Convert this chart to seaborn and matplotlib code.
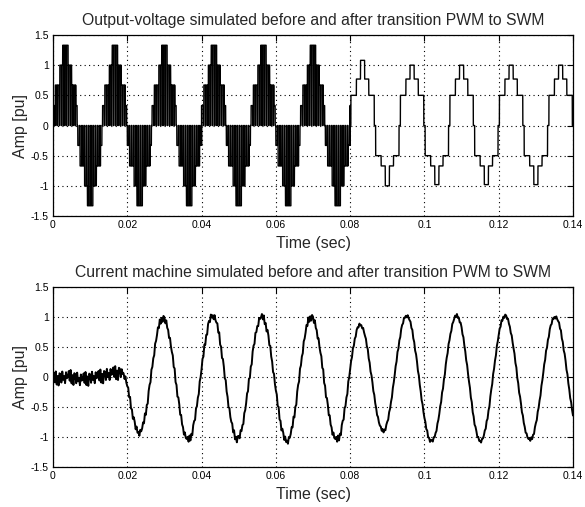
import numpy as np
import pandas as pd
import seaborn as sns
import matplotlib
matplotlib.use("Agg")
import matplotlib.pyplot as plt

# ---- values ----
period = 0.01333          # fundamental period (s), from the spacing of the peaks
t_switch = 0.08           # PWM -> SWM changeover in the voltage trace
t_end = 0.14

x_ticks = [0, 0.02, 0.04, 0.06, 0.08, 0.1, 0.12, 0.14]
x_tick_labels = ["0", "0.02", "0.04", "0.06", "0.08", "0.1", "0.12", "0.14"]
y_ticks = [-1.5, -1, -0.5, 0, 0.5, 1, 1.5]
y_tick_labels = ["-1.5", "-1", "-0.5", "0", "0.5", "1", "1.5"]

titles = ["Output-voltage simulated before and after transition PWM to SWM",
          "Current machine simulated before and after transition PWM to SWM"]

# PWM part: envelope level inside each half cycle (edges in degrees)
pwm_edges = [0, 15, 45, 70, 110, 135, 165, 180]
pwm_levels = [0.33, 0.67, 1.0, 1.33, 1.0, 0.67, 0.33]
pwm_pulses_per_half = 11
pwm_duty = 0.7

# SWM part: staircase per half cycle, index 3 is the peak step
swm_edges = [0, 5, 45, 75, 105, 135, 175, 180]
swm_pos_levels = [0, 0.5, 0.77, 1.0, 0.77, 0.5, 0]
swm_neg_levels = [0, -0.5, -0.67, -0.98, -0.67, -0.5, 0]
swm_pos_peaks = [1.08, 1.0, 1.0, 1.0, 1.0]
swm_neg_peaks = [-1.0, -0.98, -0.98, -0.98, -0.98]

# current: quiet start, then the extrema of every half wave
current_knot_t = [0.0, 0.004, 0.008, 0.012, 0.0165, 0.0185, 0.0232, 0.0296,
                  0.0364, 0.0430, 0.0496, 0.0562, 0.0630, 0.0695, 0.0764,
                  0.0827, 0.0889, 0.0952, 0.1019, 0.1087, 0.1151, 0.1217,
                  0.1284, 0.1352, 0.1420]
current_knot_v = [-0.03, 0.0, -0.04, 0.0, 0.06, 0.08, -0.93, 0.98,
                  -1.05, 1.02, -1.03, 1.0, -1.07, 1.0, -1.05,
                  0.87, -0.9, 1.02, -1.07, 1.02, -1.07, 1.02,
                  -1.05, 1.0, -1.05]
# jagged ripple on the current, one value per 0.25 ms, repeated along the trace
ripple = [0.0, 0.05, -0.03, 0.06, -0.05, 0.02, -0.06, 0.04,
          0.03, -0.04, 0.05, -0.02, 0.01, -0.05, 0.04, -0.01]
ripple_step = 0.00025
ripple_from = [0.0, 0.0185, 0.08]
ripple_gain = [2.0, 1.0, 0.5]


def half_wave_level(tau, edges, pos, neg):
    ph = (tau % period) / period * 360
    idx = np.clip(np.searchsorted(edges, ph % 180, side="right") - 1, 0, len(pos) - 1)
    return ph, idx, np.where(ph < 180, np.take(pos, idx), np.take(neg, idx))


# voltage trace
t_v = np.arange(0, t_end + 1e-9, 2e-6)
_, _, env = half_wave_level(t_v, pwm_edges, pwm_levels, [-v for v in pwm_levels])
pulse_T = period / 2 / pwm_pulses_per_half
on = ((t_v % pulse_T) / pulse_T) < pwm_duty
v_pwm = env * on

tau = np.clip(t_v - t_switch, 0, None)
ph, idx, v_swm = half_wave_level(tau, swm_edges, swm_pos_levels, swm_neg_levels)
n = np.clip((tau // period).astype(int), 0, len(swm_pos_peaks) - 1)
peak = np.where(ph < 180, np.take(swm_pos_peaks, n), np.take(swm_neg_peaks, n))
v_swm = np.where(idx == 3, peak, v_swm)

voltage = pd.DataFrame({"t": t_v, "v": np.where(t_v < t_switch, v_pwm, v_swm)})

# current trace: smooth half-cosine between the read extrema plus the ripple
t_i = np.arange(0, t_end + 1e-9, ripple_step)
kt, kv = np.array(current_knot_t), np.array(current_knot_v)
k = np.clip(np.searchsorted(kt, t_i, side="right") - 1, 0, len(kt) - 2)
s = np.clip((t_i - kt[k]) / (kt[k + 1] - kt[k]), 0, 1)
base = kv[k] + (kv[k + 1] - kv[k]) * (1 - np.cos(np.pi * s)) / 2
rip = np.take(ripple, np.arange(len(t_i)) % len(ripple))
gain = np.take(ripple_gain, np.searchsorted(ripple_from, t_i, side="right") - 1)
current = pd.DataFrame({"t": t_i, "i": base + rip * gain})

# ---- plotting ----
sns.set_style("white")
plt.rcParams["font.family"] = ["Liberation Sans", "DejaVu Sans"]

fig = plt.figure(figsize=(5.85, 5.07), dpi=100)
ax1 = fig.add_axes([53 / 585, 1 - 216 / 507, 520 / 585, 181 / 507])
ax2 = fig.add_axes([53 / 585, 1 - 467 / 507, 520 / 585, 180 / 507])

sns.lineplot(data=voltage, x="t", y="v", ax=ax1, color="k", lw=1.0,
             estimator=None, sort=False)
sns.lineplot(data=current, x="t", y="i", ax=ax2, color="k", lw=1.4,
             estimator=None, sort=False)

for ax, title in zip([ax1, ax2], titles):
    ax.set_xlim(0, t_end)
    ax.set_ylim(-1.5, 1.5)
    ax.set_xticks(x_ticks)
    ax.set_xticklabels(x_tick_labels)
    ax.set_yticks(y_ticks)
    ax.set_yticklabels(y_tick_labels)
    ax.tick_params(direction="in", length=4, width=0.8, labelsize=7.5,
                   top=True, right=True, pad=3, colors="k")
    ax.grid(True, color="k", linestyle=(0, (1, 3)), linewidth=0.8)
    ax.set_axisbelow(True)
    for sp in ax.spines.values():
        sp.set_color("k")
        sp.set_linewidth(0.9)
    ax.set_title(title, fontsize=11.3, pad=7)
    ax.set_xlabel("Time (sec)", fontsize=11.5, labelpad=4)
    ax.set_ylabel("Amp [pu]", fontsize=11.5, labelpad=2)

fig.savefig("out.png", dpi=100)
